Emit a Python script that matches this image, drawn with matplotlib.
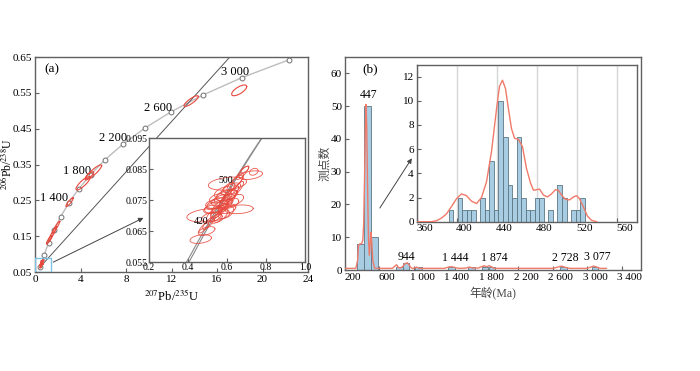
import numpy as np
import matplotlib
matplotlib.use("Agg")
import matplotlib.pyplot as plt
from matplotlib.transforms import ScaledTranslation

plt.rcParams['font.family'] = ['Liberation Serif', 'Noto Sans CJK SC']
plt.rcParams['mathtext.fontset'] = 'stix'

# ---------------- data, panel (a) ----------------
# concordia markers (Ma) and their ratios
conc_age = [400, 600, 800, 1000, 1200, 1400, 1600, 1800, 2000, 2200, 2400, 2600, 2800, 3000, 3200]
conc_x = [0.483, 0.806, 1.199, 1.677, 2.260, 2.970, 3.834, 4.887, 6.169, 7.729, 9.630, 11.944, 14.762, 18.193, 22.372]
conc_y = [0.0640, 0.0975, 0.1321, 0.1678, 0.2046, 0.2426, 0.2817, 0.3221, 0.3638, 0.4067, 0.4511, 0.4968, 0.5440, 0.5926, 0.6428]
conc_labels = ['1 400', '1 800', '2 200', '2 600', '3 000']
conc_label_x = [1.70, 3.72, 6.88, 10.84, 17.6]
conc_label_y = [0.256, 0.332, 0.425, 0.509, 0.607]

# concordia (and its envelope) in the zoomed inset
inset_age = [340, 360, 400, 420, 440, 460, 480, 500, 520, 540, 560, 580, 600]
inset_x = [0.398, 0.426, 0.483, 0.512, 0.542, 0.573, 0.604, 0.636, 0.669, 0.702, 0.736, 0.770, 0.806]
inset_env_x = [0.385, 0.414, 0.472, 0.502, 0.533, 0.565, 0.597, 0.630, 0.664, 0.698, 0.733, 0.768, 0.805]
inset_y = [0.0542, 0.0574, 0.0640, 0.0673, 0.0706, 0.0740, 0.0773, 0.0807, 0.0840, 0.0874, 0.0908, 0.0941, 0.0975]

# discordia line ends
disc_x = [0.45, 17.3]
disc_y = [0.064, 0.656]

# error ellipses: centre x, centre y, half-width x, half-height y, correlation
# (first nine are the older grains, the rest the ~450 Ma cluster)
ell_cx = [17.95, 13.73, 5.13, 4.22, 4.80, 3.04, 1.85, 1.55, 1.25,
          0.504, 0.662, 0.602, 0.737, 0.722, 0.465, 0.495, 0.680, 0.690, 0.640,
          0.620, 0.600, 0.580, 0.560, 0.545, 0.575, 0.560, 0.590, 0.610, 0.630,
          0.535, 0.520, 0.600, 0.570, 0.505, 0.655, 0.580, 0.620, 0.550, 0.530,
          0.595, 0.480, 0.545, 0.640, 0.565, 0.610, 0.585, 0.545, 0.660, 0.525]
ell_cy = [0.557, 0.527, 0.328, 0.2975, 0.320, 0.245, 0.175, 0.157, 0.140,
          0.0701, 0.0720, 0.0803, 0.0841, 0.0830, 0.0624, 0.0650, 0.0838, 0.0848, 0.0805,
          0.0785, 0.0765, 0.0750, 0.0740, 0.0728, 0.0730, 0.0715, 0.0745, 0.0760, 0.0770,
          0.0705, 0.0695, 0.0722, 0.0700, 0.0675, 0.0815, 0.0775, 0.0740, 0.0755, 0.0735,
          0.0710, 0.0660, 0.0690, 0.0750, 0.0760, 0.0790, 0.0735, 0.0715, 0.0790, 0.0720]
ell_sx = [0.66, 0.63, 0.73, 0.62, 0.35, 0.32, 0.33, 0.35, 0.25,
          0.110, 0.072, 0.098, 0.022, 0.060, 0.055, 0.043, 0.032, 0.020, 0.040,
          0.050, 0.055, 0.060, 0.070, 0.060, 0.050, 0.045, 0.035, 0.040, 0.030,
          0.040, 0.050, 0.045, 0.035, 0.030, 0.030, 0.045, 0.040, 0.040, 0.035,
          0.040, 0.025, 0.030, 0.045, 0.030, 0.030, 0.030, 0.030, 0.025, 0.045]
ell_sy = [0.015, 0.015, 0.021, 0.0186, 0.010, 0.0125, 0.017, 0.020, 0.012,
          0.0022, 0.0014, 0.0021, 0.0011, 0.0014, 0.0014, 0.0014, 0.0022, 0.0010, 0.0025,
          0.0020, 0.0018, 0.0020, 0.0017, 0.0020, 0.0022, 0.0025, 0.0028, 0.0022, 0.0025,
          0.0022, 0.0016, 0.0016, 0.0022, 0.0020, 0.0020, 0.0018, 0.0016, 0.0015, 0.0016,
          0.0020, 0.0016, 0.0015, 0.0018, 0.0020, 0.0016, 0.0030, 0.0018, 0.0020, 0.0014]
ell_r = [0.7, 0.85, 0.9, 0.85, 0.8, 0.9, 0.95, 0.95, 0.9,
         0.3, 0.2, 0.3, 0.3, 0.4, 0.3, 0.5, 0.85, 0.6, 0.8,
         0.6, 0.5, 0.5, 0.4, 0.5, 0.6, 0.8, 0.85, 0.7, 0.85,
         0.7, 0.4, 0.3, 0.7, 0.8, 0.7, 0.5, 0.4, 0.4, 0.5,
         0.5, 0.8, 0.5, 0.5, 0.7, 0.6, 0.9, 0.6, 0.8, 0.3]

# ---------------- data, panel (b) ----------------
bar_left = [347, 427, 505, 793, 870, 1012, 1396, 1627, 1781, 1862, 2684, 3050]
bar_count = [8, 50, 10, 1, 2, 1, 1, 1, 1, 1, 1, 1]

kde_x = [200, 330, 350, 360, 375, 395, 410, 420, 430, 440, 447, 455, 465, 475, 485, 495, 503, 512,
         525, 545, 600, 750, 780, 800, 820, 840, 870, 900, 925, 945, 970, 1000, 1030, 1060, 1100,
         1350, 1400, 1440, 1480, 1520, 1600, 1640, 1680, 1740, 1780, 1810, 1840, 1870, 1900, 1930,
         1980, 2600, 2650, 2700, 2750, 2800, 3000, 3040, 3075, 3110, 3150, 3220]
kde_y = [0.5, 0.5, 3, 7.5, 8, 8, 9, 14, 28, 44, 50.5, 44, 25, 10, 4.5, 8, 11.5, 9,
         3, 0.6, 0.5, 0.5, 1.2, 1.6, 0.8, 0.6, 1.0, 2.0, 2.2, 1.5, 0.6, 0.5, 0.9, 0.5, 0.5,
         0.5, 0.9, 1.0, 0.7, 0.5, 0.6, 0.9, 0.6, 0.6, 1.0, 1.3, 1.0, 1.3, 0.9, 0.5,
         0.5, 0.5, 0.8, 1.2, 0.8, 0.5, 0.5, 0.9, 1.2, 0.9, 0.5, 0.5]
peak_labels = ['447', '944', '1 444', '1 874', '2 728', '3 077']
peak_x = [473, 916, 1473, 1923, 2742, 3119]
peak_y = [53.3, 4.0, 3.8, 3.7, 3.8, 3.9]

# zoomed histogram 360-560 Ma
zbin_start = 392.0
zbin_width = 4.54
zbin_count = [1, 0, 2, 1, 1, 1, 0, 2, 1, 5, 1, 10, 7, 3, 2, 7, 2, 1, 1, 2, 2, 0, 1, 0, 3, 2, 0, 1, 1, 2]
zkde_x = [360, 375, 380, 385, 390, 395, 400, 405, 410, 415, 420, 425, 430, 435, 440, 443, 446, 449, 452,
          455, 458, 462, 466, 470, 474, 477, 480, 483, 487, 491, 495, 499, 502, 505, 509, 513, 517,
          520, 523, 527, 531, 535, 540]
zkde_y = [0, 0, 0.08, 0.3, 0.65, 1.25, 1.9, 2.3, 2.15, 1.7, 1.5, 2.0, 3.3, 5.8, 9.3, 11.2, 11.7, 11.0, 9.3,
          7.7, 6.9, 6.8, 6.2, 4.4, 3.2, 2.6, 2.65, 2.7, 2.2, 2.05, 2.3, 2.65, 2.6, 2.2, 1.85, 1.8, 2.05,
          2.15, 1.9, 1.2, 0.45, 0.12, 0]

RED = '#e8483c'
SPINE = '#606060'


def ellipse(cx, cy, sx, sy, r):
    t = np.linspace(0, 2 * np.pi, 80)
    return cx + sx * np.cos(t), cy + sy * (r * np.cos(t) + np.sqrt(1 - r * r) * np.sin(t))


def style(ax, size=8):
    for s in ax.spines.values():
        s.set_color(SPINE)
        s.set_linewidth(1.0)
    ax.tick_params(direction='in', length=3, width=0.8, color=SPINE, labelsize=size, pad=2)


fig = plt.figure(figsize=(7.0, 3.71), dpi=100)

# ---------------- panel (a) ----------------
axa = fig.add_axes([0.05, 0.2668, 0.39, 0.5795])
axa.plot(conc_x, conc_y, color='#bdbdbd', lw=1.0, zorder=2)
axa.plot(conc_x, conc_y, 'o', ms=3.5, mfc='white', mec='#707070', mew=0.7, zorder=3)
axa.plot(disc_x, disc_y, color='#555555', lw=0.7, zorder=2)
for i in range(len(conc_labels)):
    axa.text(conc_label_x[i], conc_label_y[i], conc_labels[i], fontsize=9, ha='center', va='center')
for i in range(len(ell_cx)):
    ex, ey = ellipse(ell_cx[i], ell_cy[i], ell_sx[i], ell_sy[i], ell_r[i])
    axa.plot(ex, ey, color=RED, lw=0.8, zorder=4)
axa.plot([0, 1.38, 1.38, 0, 0], [0.05, 0.05, 0.09, 0.09, 0.05], color='#7ec3e6', lw=1.0, zorder=5)
axa.annotate('', xy=(9.75, 0.2045), xytext=(1.38, 0.074),
             arrowprops=dict(arrowstyle='-|>', color='#444444', lw=0.7, mutation_scale=7))
axa.text(0.035, 0.93, '(a)', transform=axa.transAxes, fontsize=9.5)
axa.set_xlim(0, 24)
axa.set_ylim(0.05, 0.65)
axa.set_xticks(range(0, 25, 4))
axa.set_yticks([0.05, 0.15, 0.25, 0.35, 0.45, 0.55, 0.65])
axa.set_yticklabels(['0.05', '0.15', '0.25', '0.35', '0.45', '0.55', '0.65'])
axa.set_xlabel(r'$^{207}$Pb/$^{235}$U', fontsize=9, labelpad=3)
axa.set_ylabel(r'$^{206}$Pb/$^{238}$U', fontsize=8.5)
axa.yaxis.set_label_coords(-0.078, 0.5)
style(axa)

# inset of panel (a)
axai = fig.add_axes([0.2129, 0.2938, 0.2229, 0.3342])
axai.plot(inset_x, inset_y, color='#8a8a8a', lw=0.8)
axai.plot(inset_env_x, inset_y, color='#8a8a8a', lw=0.8)
for i in range(9, len(ell_cx)):
    ex, ey = ellipse(ell_cx[i], ell_cy[i], ell_sx[i], ell_sy[i], ell_r[i])
    axai.plot(ex, ey, color=RED, lw=0.6, alpha=0.9)
axai.text(0.467, 0.0680, '420', fontsize=7, ha='center', va='center')
axai.text(0.592, 0.0812, '500', fontsize=7, ha='center', va='center')
axai.set_xlim(0.2, 1.0)
axai.set_ylim(0.055, 0.095)
axai.set_xticks([0.2, 0.4, 0.6, 0.8, 1.0])
axai.set_xticklabels(['0.2', '0.4', '0.6', '0.8', '1.0'])
axai.set_yticks([0.055, 0.065, 0.075, 0.085, 0.095])
axai.set_yticklabels(['0.055', '0.065', '0.075', '0.085', '0.095'])
style(axai, 7)
axai.tick_params(pad=1)

# ---------------- panel (b) ----------------
axb = fig.add_axes([0.4923, 0.2722, 0.4234, 0.5741])
axb.bar(bar_left, bar_count, width=78, align='edge', color='#a8cde2', edgecolor='#5b7684', lw=0.6, zorder=2)
axb.plot(kde_x, kde_y, color='#f07a6a', lw=1.0, zorder=3)
for i in range(len(peak_labels)):
    axb.text(peak_x[i], peak_y[i], peak_labels[i], fontsize=8.5, ha='center', va='center')
axb.annotate('', xy=(993, 34.8), xytext=(589, 18.2),
             arrowprops=dict(arrowstyle='-|>', color='#444444', lw=0.7, mutation_scale=7))
axb.text(0.06, 0.93, '(b)', transform=axb.transAxes, fontsize=9.5)
axb.set_xlim(200, 3620)
axb.set_ylim(0, 65)
axb.set_xticks(range(200, 3401, 400))
axb.set_xticklabels(['200', '600', '1 000', '1 400', '1 800', '2 200', '2 600', '3 000', '3 400'])
axb.set_yticks(range(0, 61, 10))
axb.set_xlabel('年龄(Ma)', fontsize=8.5, color='#444444', labelpad=4)
axb.set_ylabel('测点数', fontsize=8.5, color='#444444')
axb.yaxis.set_label_coords(-0.045, 0.5)
style(axb)

# inset of panel (b)
axbi = fig.add_axes([0.595, 0.4024, 0.3143, 0.4237])
zlefts = [zbin_start + i * zbin_width for i in range(len(zbin_count))]
axbi.grid(axis='x', color='#d6d6d6', lw=1.0, zorder=0)
axbi.bar(zlefts, zbin_count, width=zbin_width, align='edge', color='#a8cde2', edgecolor='#5b7684', lw=0.6, zorder=2)
axbi.plot(zkde_x, zkde_y, color='#f07a6a', lw=1.0, zorder=3)
axbi.set_xlim(360, 580)
axbi.set_ylim(0, 13)
axbi.set_xticks(range(360, 561, 40))
axbi.set_yticks(range(0, 13, 2))
axbi.set_axisbelow(True)
style(axbi)

# the tick labels of panel (b) sit a little right of their ticks
shift = ScaledTranslation(8 / 100, 0, fig.dpi_scale_trans)
for ax in (axb, axbi):
    for lab in ax.get_xticklabels():
        lab.set_transform(lab.get_transform() + shift)

fig.savefig('out.png', dpi=100)
